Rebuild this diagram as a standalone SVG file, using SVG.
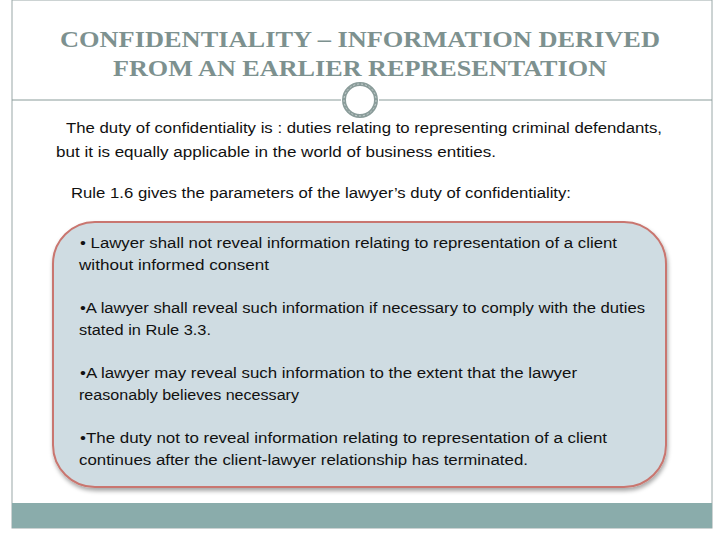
<svg xmlns="http://www.w3.org/2000/svg" width="720" height="540" viewBox="0 0 720 540">
<style>
.t{font-family:"Liberation Serif",serif;font-weight:bold;font-size:24px;fill:#7d918f}
.b{font-family:"Liberation Sans",Arial,sans-serif;font-size:15.5px;fill:#111}
</style>
<defs><filter id="sh" x="-5%" y="-5%" width="110%" height="115%"><feDropShadow dx="1" dy="3" stdDeviation="2" flood-color="#000" flood-opacity="0.35"/></filter></defs>
<rect width="720" height="540" fill="#fff"/>
<rect x="12" y="0" width="700" height="528" fill="none" stroke="#9aa8a8" stroke-width="1"/>
<rect x="12" y="503" width="700" height="25" fill="#8aacab"/>
<g id="title">
<text class="t" x="60" y="47" textLength="600" lengthAdjust="spacingAndGlyphs">CONFIDENTIALITY – INFORMATION DERIVED</text>
<text class="t" x="113" y="76" textLength="494" lengthAdjust="spacingAndGlyphs">FROM AN EARLIER REPRESENTATION</text>
</g>
<g id="divider" stroke="#8a9c9a" fill="none">
<line x1="12" y1="100" x2="341" y2="100"/>
<line x1="379" y1="100" x2="712" y2="100"/>
<circle cx="360" cy="100" r="16" stroke-width="4" stroke="#8a9c9a"/>
<circle cx="360" cy="100" r="16" stroke-width="1" stroke="#c7d1d0" stroke-dasharray="2 2"/>
</g>
<g id="intro">
<text class="b" x="66" y="133" textLength="596" lengthAdjust="spacingAndGlyphs">The duty of confidentiality is : duties relating to representing criminal defendants,</text>
<text class="b" x="56" y="157" textLength="440" lengthAdjust="spacingAndGlyphs">but it is equally applicable in the world of business entities.</text>
<text class="b" x="71" y="198" textLength="500" lengthAdjust="spacingAndGlyphs">Rule 1.6 gives the parameters of the lawyer’s duty of confidentiality:</text>
</g>
<g id="box">
<rect x="53" y="222" width="613" height="265" rx="42" fill="#cfdce2" stroke="#c9766f" stroke-width="2" filter="url(#sh)"/>
<text class="b" x="80" y="248" textLength="537" lengthAdjust="spacingAndGlyphs">• Lawyer shall not reveal information relating to representation of a client</text>
<text class="b" x="79" y="270" textLength="190" lengthAdjust="spacingAndGlyphs">without informed consent</text>
<text class="b" x="80" y="313" textLength="565" lengthAdjust="spacingAndGlyphs">•A lawyer shall reveal such information if necessary to comply with the duties</text>
<text class="b" x="79" y="335" textLength="132" lengthAdjust="spacingAndGlyphs">stated in Rule 3.3.</text>
<text class="b" x="80" y="378" textLength="497" lengthAdjust="spacingAndGlyphs">•A lawyer may reveal such information to the extent that the lawyer</text>
<text class="b" x="79" y="400" textLength="220" lengthAdjust="spacingAndGlyphs">reasonably believes necessary</text>
<text class="b" x="80" y="443" textLength="527" lengthAdjust="spacingAndGlyphs">•The duty not to reveal information relating to representation of a client</text>
<text class="b" x="79" y="465" textLength="449" lengthAdjust="spacingAndGlyphs">continues after the client-lawyer relationship has terminated.</text>
</g>
</svg>
